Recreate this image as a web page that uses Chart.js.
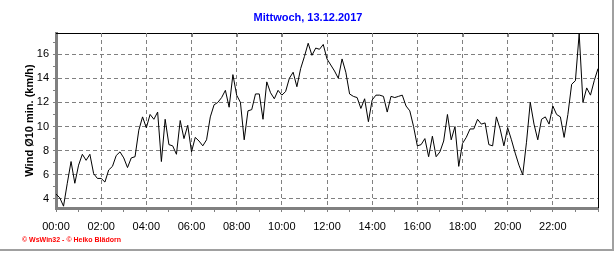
<!DOCTYPE html>
<html>
<head>
<meta charset="utf-8">
<script src="https://cdn.jsdelivr.net/npm/chart.js@4.4.1/dist/chart.umd.min.js"></script>
<style>
  body { margin: 0; background: #fff; }
  canvas { display: block; }
</style>
</head>
<body>
<canvas id="myChart" width="616" height="253"></canvas>
<script>
// wind, 10 min mean, one value every 10 minutes from 00:00
var stepMinutes = 10;
var windValues = [
  4.4, 4.1, 3.4, 5.3, 7.1, 5.3, 6.8, 7.7, 7.2, 7.7, 6.1, 5.7,
  5.7, 5.4, 6.4, 6.7, 7.6, 7.9, 7.4, 6.6, 7.4, 7.5, 9.7, 10.8,
  9.9, 11.0, 10.6, 11.2, 7.1, 10.6, 8.5, 8.4, 7.7, 10.5, 9.0, 10.1,
  7.9, 9.1, 8.8, 8.4, 8.9, 10.8, 11.8, 12.0, 12.4, 13.0, 11.6, 14.3,
  12.6, 12.0, 8.9, 11.3, 11.4, 12.7, 12.7, 10.6, 13.7, 12.8, 12.3, 13.0,
  12.6, 12.9, 14.0, 14.5, 13.3, 14.8, 15.8, 16.9, 15.9, 16.5, 16.4, 16.8,
  15.6, 15.1, 14.6, 14.0, 15.6, 14.5, 12.7, 12.5, 12.4, 11.5, 12.3, 10.4,
  12.2, 12.6, 12.6, 12.5, 11.2, 12.5, 12.4, 12.5, 12.6, 11.7, 11.3, 10.0,
  8.4, 8.5, 9.0, 7.5, 9.2, 7.5, 7.9, 8.8, 11.0, 8.9, 10.0, 6.7,
  8.6, 9.1, 9.8, 9.8, 10.6, 10.2, 10.3, 8.5, 8.4, 10.8, 9.8, 8.4,
  9.9, 8.9, 7.8, 6.8, 6.0, 8.7, 12.0, 10.2, 8.9, 10.6, 10.8, 10.2,
  11.7, 11.0, 10.8, 9.1, 11.0, 13.5, 13.8, 17.7, 12.0, 13.2, 12.6, 13.8,
  14.8
];
var hourLabels = ['00:00', '02:00', '04:00', '06:00', '08:00', '10:00',
                  '12:00', '14:00', '16:00', '18:00', '20:00', '22:00'];
var titleText = 'Mittwoch, 13.12.2017';
var yTitle = 'Wind \u00d810 min. (km/h)';
var footerText = '\u00a9 WsWin32 - \u00a9 Heiko Bl\u00e4dorn';

var punkte = windValues.map(function (v, i) {
    return { x: i * stepMinutes, y: v };
});

Chart.defaults.font.family = 'Liberation Sans, Arial, sans-serif';
Chart.defaults.font.size = 11;
Chart.defaults.color = '#000';

var rahmen = {
    id: 'rahmen',
    beforeDraw: function (chart) {
        var c = chart.ctx;
        c.save();
        c.fillStyle = '#fff';
        c.fillRect(0, 0, chart.width, chart.height);
        c.restore();
    },
    afterDraw: function (chart) {
        var c = chart.ctx;
        var a = chart.chartArea;
        var xs = chart.scales.x;
        c.save();
        // black top and right border of the plot
        c.strokeStyle = '#000';
        c.lineWidth = 1;
        c.beginPath();
        c.moveTo(a.left, a.top + 0.5);
        c.lineTo(a.right + 0.5, a.top + 0.5);
        c.lineTo(a.right + 0.5, a.bottom);
        c.stroke();
        // small marks under the top border
        c.strokeStyle = '#808080';
        c.beginPath();
        for (var m = 120; m < 1440; m += 120) {
            var px = Math.round(xs.getPixelForValue(m)) + 0.5;
            c.moveTo(px, a.top);
            c.lineTo(px, a.top + 4);
        }
        c.stroke();
        // outer frame (right and bottom)
        c.strokeStyle = '#a0a0a0';
        c.lineWidth = 2;
        c.beginPath();
        c.moveTo(0, 250);
        c.lineTo(613, 250);
        c.lineTo(613, 0);
        c.stroke();
        // title
        c.fillStyle = '#0000ff';
        c.font = 'bold 11px Liberation Sans, Arial, sans-serif';
        c.textAlign = 'center';
        c.textBaseline = 'middle';
        c.fillText(titleText, 308, 18);
        // y axis title
        c.fillStyle = '#000';
        c.translate(30, (a.top + a.bottom) / 2);
        c.rotate(-Math.PI / 2);
        c.fillText(yTitle, 0, 0);
        c.setTransform(1, 0, 0, 1, 0, 0);
        // footer
        c.fillStyle = '#ff0000';
        c.font = 'bold 7px Liberation Sans, Arial, sans-serif';
        c.textAlign = 'left';
        c.fillText(footerText, 22, 240);
        c.restore();
    }
};

var ctx = document.getElementById('myChart');
new Chart(ctx, {
    type: 'line',
    data: {
        datasets: [{
            label: 'Wind',
            data: punkte,
            borderColor: '#000',
            borderWidth: 1,
            pointRadius: 0,
            tension: 0,
            fill: false
        }]
    },
    options: {
        responsive: false,
        animation: false,
        events: [],
        layout: { padding: { left: 0, top: 33, right: 18, bottom: 0 } },
        plugins: {
            legend: { display: false },
            title: { display: false },
            tooltip: { enabled: false }
        },
        scales: {
            x: {
                type: 'linear',
                min: 0,
                max: 1440,
                afterFit: function (s) { s.height = 45; },
                ticks: {
                    stepSize: 60,
                    autoSkip: false,
                    maxRotation: 0,
                    padding: 8,
                    callback: function (v) {
                        if (v % 120 === 0 && v < 1440) return hourLabels[v / 120];
                        return '';
                    }
                },
                grid: {
                    color: function (c) {
                        var v = c.tick ? c.tick.value : -1;
                        return (v % 120 === 0 && v > 0 && v < 1440) ? '#808080' : 'rgba(0,0,0,0)';
                    },
                    tickColor: '#808080',
                    tickLength: 4,
                    lineWidth: 1
                },
                border: { display: true, color: '#808080', width: 3, dash: [4, 3] }
            },
            y: {
                min: 3.25,
                max: 17.75,
                afterFit: function (s) { s.width = 56; },
                ticks: {
                    stepSize: 1,
                    includeBounds: false,
                    autoSkip: false,
                    padding: 4,
                    callback: function (v) {
                        if (Number.isInteger(v) && v % 2 === 0) return String(v);
                        return '';
                    }
                },
                grid: {
                    color: function (c) {
                        var v = c.tick ? c.tick.value : -1;
                        return (Number.isInteger(v) && v % 2 === 0) ? '#808080' : 'rgba(0,0,0,0)';
                    },
                    tickColor: '#808080',
                    tickLength: 3,
                    lineWidth: 1
                },
                border: { display: true, color: '#808080', width: 3, dash: [4, 3] }
            }
        }
    },
    plugins: [rahmen]
});
</script>
</body>
</html>
